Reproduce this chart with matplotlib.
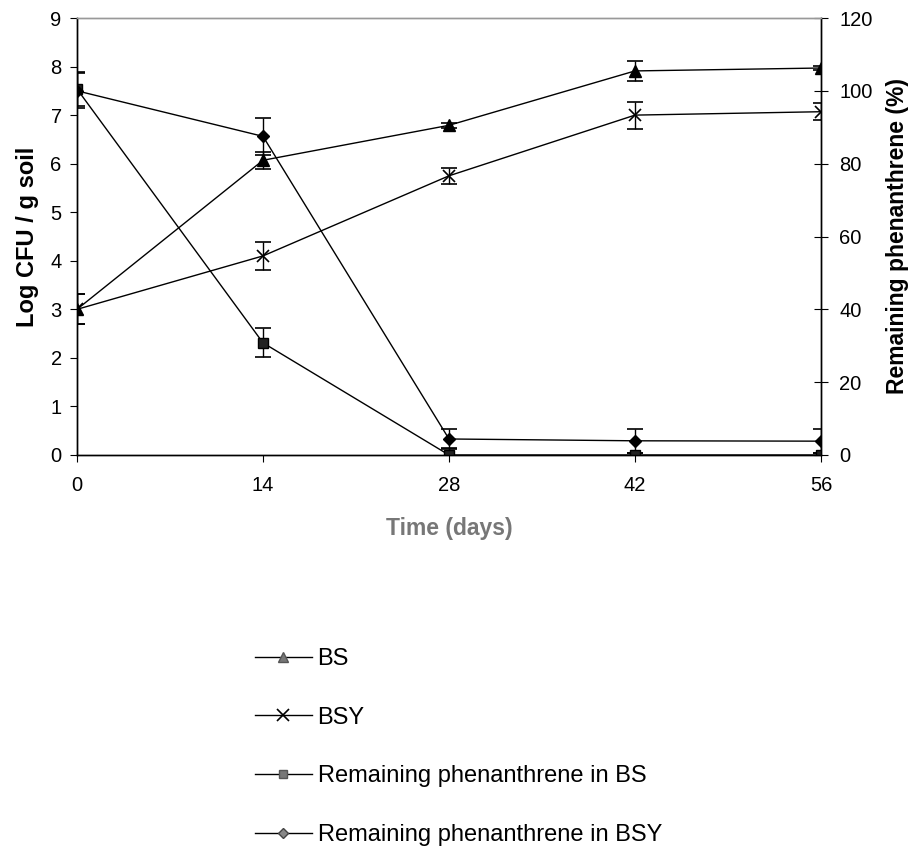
import matplotlib
matplotlib.use("Agg")
import matplotlib.pyplot as plt
from matplotlib.lines import Line2D

plt.rcParams['font.family'] = ['Liberation Sans', 'DejaVu Sans']

days = [0, 14, 28, 42, 56]
bs_cfu = [3.0, 6.07, 6.79, 7.91, 7.97]
bs_err = [0.31, 0.17, 0.05, 0.2, 0.05]
bsy_cfu = [3.0, 4.10, 5.75, 7.0, 7.07]
bsy_err = [0.31, 0.28, 0.16, 0.28, 0.17]
phen_bs = [100.5, 30.8, 0.0, 0.0, 0.0]
phen_bs_err = [4.8, 4.0, 2.0, 0.5, 0.5]
phen_bsy = [100.0, 87.5, 4.4, 3.9, 3.8]
phen_bsy_err = [4.8, 5.0, 2.8, 3.3, 3.3]

labels = ["BS", "BSY", "Remaining phenanthrene in BS", "Remaining phenanthrene in BSY"]

fig = plt.figure(figsize=(9.14, 8.58), dpi=100)
ax = fig.add_axes([77/914, 1-455/858, (821-77)/914, (455-18)/858])
ax2 = ax.twinx()

ekw = dict(color='black', lw=1.0, ecolor='black', elinewidth=1.0, capsize=6, capthick=1.2)
ax.errorbar(days, bs_cfu, yerr=bs_err, marker='^', ms=8, mfc='black', mec='black', **ekw)
ax.errorbar(days, bsy_cfu, yerr=bsy_err, marker='x', ms=9, mew=1.2, mec='black', **ekw)
ax2.errorbar(days, phen_bs, yerr=phen_bs_err, marker='s', ms=7, mfc='#222222', mec='black', **ekw)
ax2.errorbar(days, phen_bsy, yerr=phen_bsy_err, marker='D', ms=6.5, mfc='black', mec='black', **ekw)

ax.set_xlim(0, 56)
ax.set_ylim(0, 9)
ax2.set_ylim(0, 120)
ax.set_xticks(days)
ax.set_yticks(range(0, 10))
ax2.set_yticks(range(0, 121, 20))

for a in (ax, ax2):
    for s in a.spines.values():
        s.set_linewidth(1.0)
        s.set_color('black')
    a.spines['top'].set_color('#999999')

ax.tick_params(axis='x', direction='out', length=5, labelsize=14.5, pad=10)
ax.tick_params(axis='y', direction='out', length=5, labelsize=14.5, pad=6)
ax2.tick_params(axis='y', direction='inout', length=10, labelsize=14.5, pad=8)

ax.set_xlabel("Time (days)", fontsize=16.5, fontweight='bold', color='#777777', labelpad=16)
ax.set_ylabel("Log CFU / g soil", fontsize=17, fontweight='bold', labelpad=8)
ax2.set_ylabel("Remaining phenanthrene (%)", fontsize=16.5, fontweight='bold', labelpad=10)

handles = [
    Line2D([], [], color='black', lw=1.0, marker='^', ms=6.5, mfc='#777777', mec='#555555'),
    Line2D([], [], color='black', lw=1.0, marker='x', ms=8, mew=1.2, mec='black'),
    Line2D([], [], color='black', lw=1.0, marker='s', ms=5.5, mfc='#777777', mec='#555555'),
    Line2D([], [], color='black', lw=1.0, marker='D', ms=5, mfc='#888888', mec='#444444'),
]
fig.legend(handles, labels, loc='upper left', bbox_to_anchor=(255/914, 1-648/858),
           frameon=False, fontsize=17, labelspacing=1.55, handlelength=2.4,
           handletextpad=0.25, borderaxespad=0, borderpad=0)

fig.savefig("out.png", dpi=100)
